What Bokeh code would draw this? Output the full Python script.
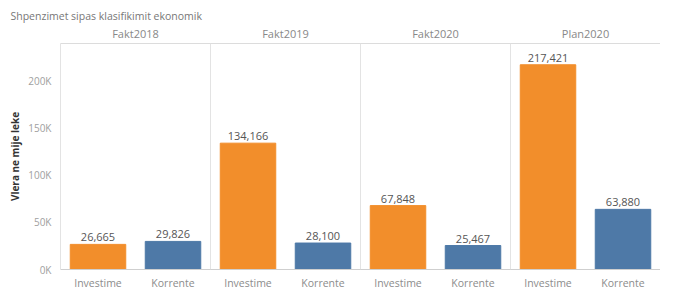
from bokeh.plotting import figure
from bokeh.models import (FactorRange, CategoricalAxis, Span,
                          ColumnDataSource, Range1d, FixedTicker)
from bokeh.core.properties import value
from bokeh.embed import file_html
from bokeh.resources import INLINE

title_text = "Shpenzimet sipas klasifikimit ekonomik"
periods = ["Fakt2018", "Fakt2019", "Fakt2020", "Plan2020"]
types = ["Investime", "Korrente"]
investime = [26665, 134166, 67848, 217421]
korrente = [29826, 28100, 25467, 63880]
y_ticks = [0, 50000, 100000, 150000, 200000]
y_tick_labels = ["0K", "50K", "100K", "150K", "200K"]
y_label = "Vlera ne mije leke"
type_colors = ["#F28E2B", "#4E79A7"]

FONT = "Open Sans"

x, vals, cols, labs = [], [], [], []
for i, per in enumerate(periods):
    for t, series, c in zip(types, [investime, korrente], type_colors):
        x.append((per, t))
        vals.append(series[i])
        cols.append(c)
        labs.append(f"{series[i]:,}")

src = ColumnDataSource(dict(x=x, v=vals, c=cols, lab=labs))

xr = FactorRange(*x, range_padding=0, group_padding=0, factor_padding=0)
p = figure(x_range=xr, y_range=Range1d(0, 240000), width=660, height=292,
           output_backend="svg", toolbar_location=None,
           min_border_left=60, min_border_right=0, min_border_top=43,
           min_border_bottom=0)
p.extra_x_ranges = {
    "per": FactorRange(*periods, range_padding=0, factor_padding=0),
}
p.outline_line_color = None
p.grid.visible = False
p.background_fill_color = "white"
p.border_fill_color = "white"

# title
p.title.text = title_text
p.title.text_font = FONT
p.title.text_font_size = "10.5px"
p.title.text_font_style = "normal"
p.title.text_color = "#777777"
p.title.offset = -50
p.title.standoff = 0

# bottom axis: sub-category labels under each bar (group level not drawn)
bx = p.below[0]
bx.axis_line_color = "#cfcfcf"
bx.major_tick_line_color = None
bx.minor_tick_line_color = None
bx.major_label_text_font = FONT
bx.major_label_text_font_size = "10.5px"
bx.major_label_text_color = "#8c8c8c"
bx.major_label_standoff = 0
bx.group_text_color = None
bx.group_text_font_size = "1px"
bx.separator_line_color = None

# top header axis: periods
tx = CategoricalAxis(x_range_name="per")
tx.axis_line_color = "#dcdcdc"
tx.major_tick_line_color = None
tx.minor_tick_line_color = None
tx.major_label_text_font = FONT
tx.major_label_text_font_size = "11px"
tx.major_label_text_color = "#888888"
tx.major_label_standoff = -3
p.add_layout(tx, "above")

# y axis
ya = p.yaxis[0]
ya.ticker = FixedTicker(ticks=y_ticks)
ya.major_label_overrides = dict(zip(y_ticks, y_tick_labels))
ya.major_label_text_font = FONT
ya.major_label_text_font_size = "10px"
ya.major_label_text_color = "#a0a0a0"
ya.major_tick_line_color = None
ya.minor_tick_line_color = None
ya.axis_line_color = "#e3e3e3"
ya.major_label_standoff = 3
ya.axis_label = y_label
ya.axis_label_text_font = FONT
ya.axis_label_text_font_size = "10px"
ya.axis_label_text_font_style = "bold"
ya.axis_label_text_color = "#333333"
ya.axis_label_standoff = 3

# panel separators
for k in range(1, len(periods)):
    p.add_layout(Span(location=k * len(types), dimension="height",
                      line_color="#e3e3e3", line_width=1))

p.vbar(x="x", top="v", width=0.74, color="c", source=src)
p.text(x="x", y="v", text="lab", source=src, text_align="center",
       text_baseline="bottom", y_offset=-3, text_font=value(FONT),
       text_font_size="11px", text_color="#555555")

open("out.html", "w").write(file_html(p, INLINE))
